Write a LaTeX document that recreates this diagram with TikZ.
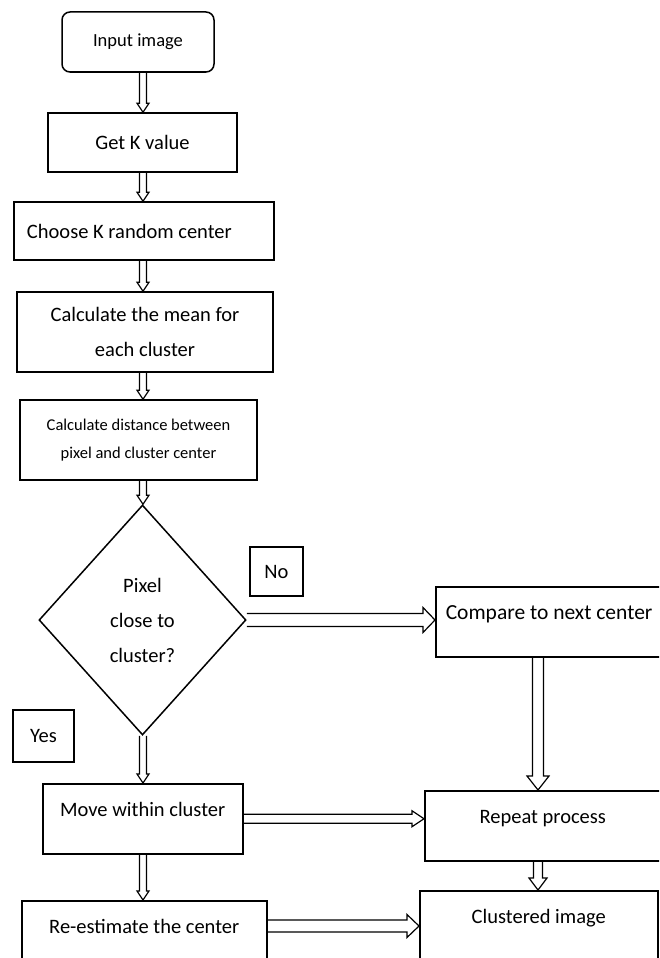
\documentclass[tikz,border=0pt]{standalone}
\usepackage{fontspec}
\setmainfont{Carlito}
\usetikzlibrary{calc,shapes.geometric}
\tikzset{
	box/.style={draw, line width=1.5pt, align=center, inner sep=0pt, font=\fontsize{20.5}{35}\selectfont},
	tallbox/.style={box, anchor=north west, text height=33pt, text depth=37pt},
	hollow/.style={draw, line width=1.2pt, line join=miter},
}
% block arrows: from, to, half shaft, half head, head length
\newcommand{\varrow}[5]{\draw[hollow] let \p1=(#1), \p2=(#2) in (\x1-#3,\y1) -- (\x1-#3,\y2+#5) -- (\x1-#4,\y2+#5) -- (\x1,\y2) -- (\x1+#4,\y2+#5) -- (\x1+#3,\y2+#5) -- (\x1+#3,\y1);}
\newcommand{\harrow}[5]{\draw[hollow] let \p1=(#1), \p2=(#2) in (\x1,\y1+#3) -- (\x2-#5,\y1+#3) -- (\x2-#5,\y1+#4) -- (\x2,\y1) -- (\x2-#5,\y1-#4) -- (\x2-#5,\y1-#3) -- (\x1,\y1-#3);}

\begin{document}
\begin{tikzpicture}[x=1pt, y=-1pt]
		%%%%% START %%%%%
		\useasboundingbox (0,0) rectangle (659,958);
		\fill[white] (0,0) rectangle (659,958);
		\clip (0,0) rectangle (659,958);
		
		\coordinate (lx) at (143,0);
		\coordinate (rx) at (538,0);
		
		\node[box, rounded corners=8pt, minimum width=152pt, minimum height=60pt, font=\fontsize{18.5}{22}\selectfont] (in) at (138,42) {Input image};
		\node[box, minimum width=189pt, minimum height=59pt] (getk) at (142.5,142.5) {Get K value};
		\node[box, minimum height=58pt, text width=234pt, inner xsep=13pt, align=flush left] (choose) at (144,231) {Choose K random center};
		\node[box, minimum width=256pt, minimum height=80pt] (mean) at (145,332) {Calculate the mean for\\each cluster};
		\node[box, minimum width=237pt, minimum height=80pt, font=\fontsize{16.5}{28}\selectfont] (dist) at (138.5,440) {Calculate distance between\\pixel and cluster center};
		\node[box, shape=diamond, minimum width=207pt, minimum height=230pt] (dec) at (142.5,620) {Pixel\\close to\\cluster?};
		
		\node[box, minimum width=53pt, minimum height=49pt] (no) at (276.5,571.5) {No};
		\node[box, minimum width=61pt, minimum height=52pt] (yes) at (43.5,736) {Yes};
		
		\node[tallbox, text width=210pt, inner xsep=10pt, align=flush left, font=\fontsize{21.5}{35}\selectfont] (comp) at (435,586) {Compare to next center};
		\node[tallbox, minimum width=200pt] (move) at (42,783) {Move within cluster};
		\node[tallbox, minimum width=245pt] (reest) at (21,900) {Re-estimate the center};
		\node[tallbox, minimum width=236pt] (rep) at (424,790) {Repeat process};
		\node[tallbox, minimum width=238pt] (clust) at (419,890) {Clustered image};
		
		\varrow{in.south -| lx}{getk.north}{3.5pt}{6pt}{9pt}
		\varrow{getk.south -| lx}{choose.north}{3.5pt}{6pt}{9pt}
		\varrow{choose.south -| lx}{mean.north}{3.5pt}{6pt}{9pt}
		\varrow{mean.south -| lx}{dist.north}{3.5pt}{6pt}{9pt}
		\varrow{dist.south -| lx}{dec.north}{3.5pt}{6pt}{9pt}
		\varrow{dec.south -| lx}{move.north}{3.5pt}{6pt}{9pt}
		\varrow{move.south -| lx}{reest.north}{3.5pt}{6pt}{9pt}
		
		\harrow{dec.east}{comp.west}{6.5pt}{12.5pt}{12pt}
		\harrow{move.east}{rep.west}{4.5pt}{8pt}{12pt}
		\harrow{[yshift=-26pt]reest.north east}{clust.west}{6pt}{11.5pt}{12pt}
		
		\varrow{comp.south -| rx}{rep.north}{5.5pt}{11pt}{14pt}
		\varrow{rep.south -| rx}{clust.north}{4.5pt}{9pt}{12pt}
		%%%%% END %%%%%
	\end{tikzpicture}
\end{document}
